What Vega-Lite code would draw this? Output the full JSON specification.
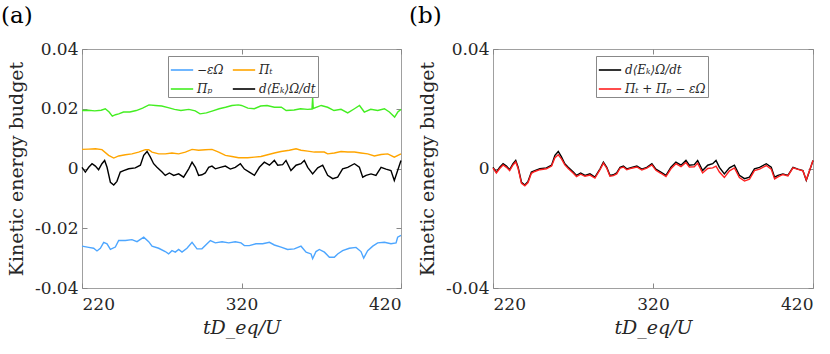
{
  "$schema": "https://vega.github.io/schema/vega-lite/v6.json",
  "background": "white",
  "padding": {"left": 0, "top": 4, "right": 5, "bottom": 5},
  "spacing": 3,
  "config": {
    "font": "DejaVu Serif",
    "view": {"stroke": "#a0a0a0", "strokeWidth": 1},
    "axis": {"domain": false, "grid": false, "tickSize": -5, "tickColor": "#888888", "labelFont": "DejaVu Serif", "labelFontSize": 17, "labelColor": "#262626", "titleFont": "DejaVu Serif", "titleFontSize": 19, "titleFontWeight": "normal", "titleColor": "#262626", "labelPadding": 9},
    "title": {"font": "DejaVu Serif", "fontSize": 23, "fontWeight": "normal", "anchor": "start", "frame": "group", "color": "#000000"},
    "legend": {"orient": "none", "title": null, "symbolType": "stroke", "symbolStrokeWidth": 1.6, "symbolSize": 500, "labelFont": "DejaVu Serif", "labelFontSize": 12, "labelFontStyle": "italic", "labelColor": "#262626", "strokeColor": "#888888", "fillColor": "white", "padding": 2, "rowPadding": 1, "columnPadding": 5, "labelOffset": 3}
  },
  "datasets": {
    "a": [
      {"s": "−εΩ", "t": 220.0, "v": -0.0260}, {"s": "−εΩ", "t": 224.2, "v": -0.0264}, {"s": "−εΩ", "t": 227.3, "v": -0.0267}, {"s": "−εΩ", "t": 229.4, "v": -0.0276}, {"s": "−εΩ", "t": 231.5, "v": -0.0267}, {"s": "−εΩ", "t": 233.6, "v": -0.0247}, {"s": "−εΩ", "t": 235.7, "v": -0.0252}, {"s": "−εΩ", "t": 237.8, "v": -0.0271}, {"s": "−εΩ", "t": 240.9, "v": -0.0263}, {"s": "−εΩ", "t": 243.0, "v": -0.0241}, {"s": "−εΩ", "t": 247.2, "v": -0.0241}, {"s": "−εΩ", "t": 251.3, "v": -0.0238}, {"s": "−εΩ", "t": 254.5, "v": -0.0245}, {"s": "−εΩ", "t": 258.7, "v": -0.0230}, {"s": "−εΩ", "t": 261.8, "v": -0.0245}, {"s": "−εΩ", "t": 263.9, "v": -0.0260}, {"s": "−εΩ", "t": 268.1, "v": -0.0267}, {"s": "−εΩ", "t": 272.2, "v": -0.0278}, {"s": "−εΩ", "t": 274.3, "v": -0.0286}, {"s": "−εΩ", "t": 276.4, "v": -0.0275}, {"s": "−εΩ", "t": 278.5, "v": -0.0280}, {"s": "−εΩ", "t": 280.6, "v": -0.0271}, {"s": "−εΩ", "t": 282.7, "v": -0.0280}, {"s": "−εΩ", "t": 285.8, "v": -0.0267}, {"s": "−εΩ", "t": 289.0, "v": -0.0247}, {"s": "−εΩ", "t": 292.1, "v": -0.0269}, {"s": "−εΩ", "t": 295.2, "v": -0.0269}, {"s": "−εΩ", "t": 298.4, "v": -0.0252}, {"s": "−εΩ", "t": 300.5, "v": -0.0241}, {"s": "−εΩ", "t": 303.6, "v": -0.0249}, {"s": "−εΩ", "t": 307.8, "v": -0.0245}, {"s": "−εΩ", "t": 312.0, "v": -0.0249}, {"s": "−εΩ", "t": 316.1, "v": -0.0245}, {"s": "−εΩ", "t": 319.7, "v": -0.0249}, {"s": "−εΩ", "t": 321.8, "v": -0.0258}, {"s": "−εΩ", "t": 324.9, "v": -0.0258}, {"s": "−εΩ", "t": 329.1, "v": -0.0252}, {"s": "−εΩ", "t": 333.3, "v": -0.0252}, {"s": "−εΩ", "t": 337.5, "v": -0.0247}, {"s": "−εΩ", "t": 340.6, "v": -0.0256}, {"s": "−εΩ", "t": 344.8, "v": -0.0263}, {"s": "−εΩ", "t": 348.9, "v": -0.0271}, {"s": "−εΩ", "t": 353.1, "v": -0.0269}, {"s": "−εΩ", "t": 357.3, "v": -0.0260}, {"s": "−εΩ", "t": 360.5, "v": -0.0280}, {"s": "−εΩ", "t": 363.6, "v": -0.0286}, {"s": "−εΩ", "t": 364.6, "v": -0.0302}, {"s": "−εΩ", "t": 366.7, "v": -0.0278}, {"s": "−εΩ", "t": 368.8, "v": -0.0271}, {"s": "−εΩ", "t": 372.0, "v": -0.0280}, {"s": "−εΩ", "t": 375.1, "v": -0.0297}, {"s": "−εΩ", "t": 378.2, "v": -0.0297}, {"s": "−εΩ", "t": 380.3, "v": -0.0286}, {"s": "−εΩ", "t": 383.4, "v": -0.0275}, {"s": "−εΩ", "t": 387.6, "v": -0.0267}, {"s": "−εΩ", "t": 391.8, "v": -0.0264}, {"s": "−εΩ", "t": 394.9, "v": -0.0278}, {"s": "−εΩ", "t": 396.6, "v": -0.0300}, {"s": "−εΩ", "t": 399.1, "v": -0.0275}, {"s": "−εΩ", "t": 402.3, "v": -0.0260}, {"s": "−εΩ", "t": 405.4, "v": -0.0249}, {"s": "−εΩ", "t": 409.6, "v": -0.0247}, {"s": "−εΩ", "t": 413.7, "v": -0.0252}, {"s": "−εΩ", "t": 416.9, "v": -0.0249}, {"s": "−εΩ", "t": 417.9, "v": -0.0230}, {"s": "−εΩ", "t": 420.0, "v": -0.0224},

      {"s": "Πₜ", "t": 220.0, "v": 0.0064}, {"s": "Πₜ", "t": 224.2, "v": 0.0065}, {"s": "Πₜ", "t": 228.4, "v": 0.0066}, {"s": "Πₜ", "t": 232.5, "v": 0.0063}, {"s": "Πₜ", "t": 236.7, "v": 0.0044}, {"s": "Πₜ", "t": 239.9, "v": 0.0035}, {"s": "Πₜ", "t": 243.0, "v": 0.0042}, {"s": "Πₜ", "t": 247.2, "v": 0.0046}, {"s": "Πₜ", "t": 251.3, "v": 0.0049}, {"s": "Πₜ", "t": 255.5, "v": 0.0055}, {"s": "Πₜ", "t": 259.7, "v": 0.0063}, {"s": "Πₜ", "t": 261.8, "v": 0.0063}, {"s": "Πₜ", "t": 263.9, "v": 0.0055}, {"s": "Πₜ", "t": 268.1, "v": 0.0049}, {"s": "Πₜ", "t": 272.2, "v": 0.0049}, {"s": "Πₜ", "t": 276.4, "v": 0.0052}, {"s": "Πₜ", "t": 280.6, "v": 0.0049}, {"s": "Πₜ", "t": 284.8, "v": 0.0055}, {"s": "Πₜ", "t": 289.0, "v": 0.0064}, {"s": "Πₜ", "t": 293.1, "v": 0.0061}, {"s": "Πₜ", "t": 297.3, "v": 0.0063}, {"s": "Πₜ", "t": 301.5, "v": 0.0064}, {"s": "Πₜ", "t": 305.7, "v": 0.0055}, {"s": "Πₜ", "t": 309.9, "v": 0.0044}, {"s": "Πₜ", "t": 314.0, "v": 0.0040}, {"s": "Πₜ", "t": 318.2, "v": 0.0036}, {"s": "Πₜ", "t": 323.9, "v": 0.0036}, {"s": "Πₜ", "t": 328.1, "v": 0.0038}, {"s": "Πₜ", "t": 332.2, "v": 0.0040}, {"s": "Πₜ", "t": 336.4, "v": 0.0046}, {"s": "Πₜ", "t": 340.6, "v": 0.0052}, {"s": "Πₜ", "t": 344.8, "v": 0.0057}, {"s": "Πₜ", "t": 350.0, "v": 0.0061}, {"s": "Πₜ", "t": 354.2, "v": 0.0066}, {"s": "Πₜ", "t": 357.3, "v": 0.0061}, {"s": "Πₜ", "t": 361.5, "v": 0.0058}, {"s": "Πₜ", "t": 365.7, "v": 0.0055}, {"s": "Πₜ", "t": 371.9, "v": 0.0055}, {"s": "Πₜ", "t": 374.0, "v": 0.0049}, {"s": "Πₜ", "t": 378.2, "v": 0.0052}, {"s": "Πₜ", "t": 382.4, "v": 0.0057}, {"s": "Πₜ", "t": 386.6, "v": 0.0055}, {"s": "Πₜ", "t": 390.8, "v": 0.0055}, {"s": "Πₜ", "t": 394.9, "v": 0.0052}, {"s": "Πₜ", "t": 399.1, "v": 0.0049}, {"s": "Πₜ", "t": 403.3, "v": 0.0042}, {"s": "Πₜ", "t": 407.5, "v": 0.0047}, {"s": "Πₜ", "t": 411.7, "v": 0.0049}, {"s": "Πₜ", "t": 415.8, "v": 0.0038}, {"s": "Πₜ", "t": 420.0, "v": 0.0049},

      {"s": "Πₚ", "t": 220.0, "v": 0.0194}, {"s": "Πₚ", "t": 224.0, "v": 0.0195}, {"s": "Πₚ", "t": 228.0, "v": 0.0193}, {"s": "Πₚ", "t": 232.0, "v": 0.0195}, {"s": "Πₚ", "t": 234.6, "v": 0.0200}, {"s": "Πₚ", "t": 237.0, "v": 0.0189}, {"s": "Πₚ", "t": 239.0, "v": 0.0175}, {"s": "Πₚ", "t": 241.0, "v": 0.0180}, {"s": "Πₚ", "t": 243.0, "v": 0.0183}, {"s": "Πₚ", "t": 246.0, "v": 0.0189}, {"s": "Πₚ", "t": 250.0, "v": 0.0189}, {"s": "Πₚ", "t": 254.0, "v": 0.0194}, {"s": "Πₚ", "t": 258.0, "v": 0.0202}, {"s": "Πₚ", "t": 262.0, "v": 0.0213}, {"s": "Πₚ", "t": 266.0, "v": 0.0211}, {"s": "Πₚ", "t": 270.0, "v": 0.0209}, {"s": "Πₚ", "t": 274.0, "v": 0.0204}, {"s": "Πₚ", "t": 278.0, "v": 0.0198}, {"s": "Πₚ", "t": 282.0, "v": 0.0194}, {"s": "Πₚ", "t": 287.0, "v": 0.0198}, {"s": "Πₚ", "t": 291.0, "v": 0.0193}, {"s": "Πₚ", "t": 294.0, "v": 0.0183}, {"s": "Πₚ", "t": 298.0, "v": 0.0186}, {"s": "Πₚ", "t": 302.0, "v": 0.0193}, {"s": "Πₚ", "t": 306.0, "v": 0.0200}, {"s": "Πₚ", "t": 310.0, "v": 0.0205}, {"s": "Πₚ", "t": 314.0, "v": 0.0211}, {"s": "Πₚ", "t": 318.0, "v": 0.0213}, {"s": "Πₚ", "t": 320.0, "v": 0.0211}, {"s": "Πₚ", "t": 324.0, "v": 0.0202}, {"s": "Πₚ", "t": 328.0, "v": 0.0200}, {"s": "Πₚ", "t": 332.0, "v": 0.0209}, {"s": "Πₚ", "t": 336.0, "v": 0.0211}, {"s": "Πₚ", "t": 340.6, "v": 0.0205}, {"s": "Πₚ", "t": 345.0, "v": 0.0205}, {"s": "Πₚ", "t": 348.0, "v": 0.0194}, {"s": "Πₚ", "t": 353.0, "v": 0.0196}, {"s": "Πₚ", "t": 357.0, "v": 0.0200}, {"s": "Πₚ", "t": 361.5, "v": 0.0198}, {"s": "Πₚ", "t": 364.2, "v": 0.0199}, {"s": "Πₚ", "t": 364.6, "v": 0.0239}, {"s": "Πₚ", "t": 365.0, "v": 0.0201}, {"s": "Πₚ", "t": 370.0, "v": 0.0211}, {"s": "Πₚ", "t": 374.0, "v": 0.0205}, {"s": "Πₚ", "t": 378.0, "v": 0.0194}, {"s": "Πₚ", "t": 382.4, "v": 0.0198}, {"s": "Πₚ", "t": 386.6, "v": 0.0186}, {"s": "Πₚ", "t": 390.8, "v": 0.0200}, {"s": "Πₚ", "t": 394.0, "v": 0.0211}, {"s": "Πₚ", "t": 397.0, "v": 0.0189}, {"s": "Πₚ", "t": 401.0, "v": 0.0198}, {"s": "Πₚ", "t": 405.4, "v": 0.0194}, {"s": "Πₚ", "t": 409.6, "v": 0.0200}, {"s": "Πₚ", "t": 412.7, "v": 0.0189}, {"s": "Πₚ", "t": 416.0, "v": 0.0172}, {"s": "Πₚ", "t": 418.0, "v": 0.0189}, {"s": "Πₚ", "t": 420.0, "v": 0.0198},

      {"s": "d⟨Eₖ⟩Ω/dt", "t": 220.0, "v": 0.0004}, {"s": "d⟨Eₖ⟩Ω/dt", "t": 222.1, "v": -0.0012}, {"s": "d⟨Eₖ⟩Ω/dt", "t": 224.2, "v": 0.0004}, {"s": "d⟨Eₖ⟩Ω/dt", "t": 226.3, "v": 0.0016}, {"s": "d⟨Eₖ⟩Ω/dt", "t": 228.4, "v": 0.0008}, {"s": "d⟨Eₖ⟩Ω/dt", "t": 230.4, "v": -0.0004}, {"s": "d⟨Eₖ⟩Ω/dt", "t": 232.5, "v": 0.0016}, {"s": "d⟨Eₖ⟩Ω/dt", "t": 234.2, "v": 0.0027}, {"s": "d⟨Eₖ⟩Ω/dt", "t": 235.7, "v": 0.0004}, {"s": "d⟨Eₖ⟩Ω/dt", "t": 237.8, "v": -0.0046}, {"s": "d⟨Eₖ⟩Ω/dt", "t": 239.9, "v": -0.0055}, {"s": "d⟨Eₖ⟩Ω/dt", "t": 241.9, "v": -0.0043}, {"s": "d⟨Eₖ⟩Ω/dt", "t": 244.0, "v": -0.0012}, {"s": "d⟨Eₖ⟩Ω/dt", "t": 246.1, "v": -0.0007}, {"s": "d⟨Eₖ⟩Ω/dt", "t": 249.3, "v": -0.0001}, {"s": "d⟨Eₖ⟩Ω/dt", "t": 253.4, "v": 0.0002}, {"s": "d⟨Eₖ⟩Ω/dt", "t": 256.6, "v": 0.0011}, {"s": "d⟨Eₖ⟩Ω/dt", "t": 258.7, "v": 0.0044}, {"s": "d⟨Eₖ⟩Ω/dt", "t": 260.8, "v": 0.0057}, {"s": "d⟨Eₖ⟩Ω/dt", "t": 262.8, "v": 0.0039}, {"s": "d⟨Eₖ⟩Ω/dt", "t": 264.9, "v": 0.0016}, {"s": "d⟨Eₖ⟩Ω/dt", "t": 267.0, "v": 0.0004}, {"s": "d⟨Eₖ⟩Ω/dt", "t": 270.2, "v": -0.0012}, {"s": "d⟨Eₖ⟩Ω/dt", "t": 272.2, "v": -0.0023}, {"s": "d⟨Eₖ⟩Ω/dt", "t": 274.8, "v": -0.0015}, {"s": "d⟨Eₖ⟩Ω/dt", "t": 277.5, "v": -0.0023}, {"s": "d⟨Eₖ⟩Ω/dt", "t": 280.6, "v": -0.0018}, {"s": "d⟨Eₖ⟩Ω/dt", "t": 283.7, "v": -0.0029}, {"s": "d⟨Eₖ⟩Ω/dt", "t": 286.9, "v": -0.0001}, {"s": "d⟨Eₖ⟩Ω/dt", "t": 289.0, "v": 0.0021}, {"s": "d⟨Eₖ⟩Ω/dt", "t": 291.1, "v": 0.0004}, {"s": "d⟨Eₖ⟩Ω/dt", "t": 293.1, "v": -0.0023}, {"s": "d⟨Eₖ⟩Ω/dt", "t": 295.2, "v": -0.0021}, {"s": "d⟨Eₖ⟩Ω/dt", "t": 297.3, "v": -0.0015}, {"s": "d⟨Eₖ⟩Ω/dt", "t": 299.4, "v": 0.0004}, {"s": "d⟨Eₖ⟩Ω/dt", "t": 301.5, "v": 0.0008}, {"s": "d⟨Eₖ⟩Ω/dt", "t": 303.6, "v": -0.0001}, {"s": "d⟨Eₖ⟩Ω/dt", "t": 306.7, "v": 0.0004}, {"s": "d⟨Eₖ⟩Ω/dt", "t": 309.9, "v": 0.0008}, {"s": "d⟨Eₖ⟩Ω/dt", "t": 313.0, "v": -0.0002}, {"s": "d⟨Eₖ⟩Ω/dt", "t": 316.1, "v": 0.0004}, {"s": "d⟨Eₖ⟩Ω/dt", "t": 319.3, "v": 0.0016}, {"s": "d⟨Eₖ⟩Ω/dt", "t": 321.8, "v": -0.0002}, {"s": "d⟨Eₖ⟩Ω/dt", "t": 324.9, "v": -0.0012}, {"s": "d⟨Eₖ⟩Ω/dt", "t": 328.1, "v": -0.0023}, {"s": "d⟨Eₖ⟩Ω/dt", "t": 331.2, "v": 0.0004}, {"s": "d⟨Eₖ⟩Ω/dt", "t": 334.3, "v": 0.0021}, {"s": "d⟨Eₖ⟩Ω/dt", "t": 337.5, "v": 0.0011}, {"s": "d⟨Eₖ⟩Ω/dt", "t": 340.6, "v": 0.0027}, {"s": "d⟨Eₖ⟩Ω/dt", "t": 342.7, "v": 0.0011}, {"s": "d⟨Eₖ⟩Ω/dt", "t": 345.8, "v": 0.0013}, {"s": "d⟨Eₖ⟩Ω/dt", "t": 347.9, "v": 0.0027}, {"s": "d⟨Eₖ⟩Ω/dt", "t": 351.0, "v": -0.0007}, {"s": "d⟨Eₖ⟩Ω/dt", "t": 354.2, "v": 0.0011}, {"s": "d⟨Eₖ⟩Ω/dt", "t": 357.3, "v": 0.0016}, {"s": "d⟨Eₖ⟩Ω/dt", "t": 359.4, "v": 0.0027}, {"s": "d⟨Eₖ⟩Ω/dt", "t": 361.5, "v": 0.0004}, {"s": "d⟨Eₖ⟩Ω/dt", "t": 364.6, "v": -0.0018}, {"s": "d⟨Eₖ⟩Ω/dt", "t": 367.8, "v": 0.0002}, {"s": "d⟨Eₖ⟩Ω/dt", "t": 370.9, "v": 0.0011}, {"s": "d⟨Eₖ⟩Ω/dt", "t": 374.0, "v": -0.0023}, {"s": "d⟨Eₖ⟩Ω/dt", "t": 377.2, "v": -0.0034}, {"s": "d⟨Eₖ⟩Ω/dt", "t": 380.3, "v": -0.0029}, {"s": "d⟨Eₖ⟩Ω/dt", "t": 383.4, "v": -0.0001}, {"s": "d⟨Eₖ⟩Ω/dt", "t": 386.6, "v": 0.0004}, {"s": "d⟨Eₖ⟩Ω/dt", "t": 390.8, "v": 0.0016}, {"s": "d⟨Eₖ⟩Ω/dt", "t": 393.9, "v": 0.0004}, {"s": "d⟨Eₖ⟩Ω/dt", "t": 396.0, "v": -0.0029}, {"s": "d⟨Eₖ⟩Ω/dt", "t": 398.1, "v": -0.0023}, {"s": "d⟨Eₖ⟩Ω/dt", "t": 401.2, "v": -0.0018}, {"s": "d⟨Eₖ⟩Ω/dt", "t": 404.3, "v": -0.0023}, {"s": "d⟨Eₖ⟩Ω/dt", "t": 407.5, "v": 0.0004}, {"s": "d⟨Eₖ⟩Ω/dt", "t": 410.6, "v": -0.0002}, {"s": "d⟨Eₖ⟩Ω/dt", "t": 413.7, "v": -0.0007}, {"s": "d⟨Eₖ⟩Ω/dt", "t": 415.8, "v": -0.0040}, {"s": "d⟨Eₖ⟩Ω/dt", "t": 417.9, "v": -0.0007}, {"s": "d⟨Eₖ⟩Ω/dt", "t": 420.0, "v": 0.0027}
    ],
    "b": [
      {"s": "d⟨Eₖ⟩Ω/dt", "t": 220.0, "v": 0.0004}, {"s": "d⟨Eₖ⟩Ω/dt", "t": 222.1, "v": -0.0012}, {"s": "d⟨Eₖ⟩Ω/dt", "t": 224.2, "v": 0.0004}, {"s": "d⟨Eₖ⟩Ω/dt", "t": 226.3, "v": 0.0016}, {"s": "d⟨Eₖ⟩Ω/dt", "t": 228.4, "v": 0.0008}, {"s": "d⟨Eₖ⟩Ω/dt", "t": 230.4, "v": -0.0004}, {"s": "d⟨Eₖ⟩Ω/dt", "t": 232.5, "v": 0.0016}, {"s": "d⟨Eₖ⟩Ω/dt", "t": 234.2, "v": 0.0027}, {"s": "d⟨Eₖ⟩Ω/dt", "t": 235.7, "v": 0.0004}, {"s": "d⟨Eₖ⟩Ω/dt", "t": 237.8, "v": -0.0046}, {"s": "d⟨Eₖ⟩Ω/dt", "t": 239.9, "v": -0.0055}, {"s": "d⟨Eₖ⟩Ω/dt", "t": 241.9, "v": -0.0043}, {"s": "d⟨Eₖ⟩Ω/dt", "t": 244.0, "v": -0.0012}, {"s": "d⟨Eₖ⟩Ω/dt", "t": 246.1, "v": -0.0007}, {"s": "d⟨Eₖ⟩Ω/dt", "t": 249.3, "v": -0.0001}, {"s": "d⟨Eₖ⟩Ω/dt", "t": 253.4, "v": 0.0002}, {"s": "d⟨Eₖ⟩Ω/dt", "t": 256.6, "v": 0.0011}, {"s": "d⟨Eₖ⟩Ω/dt", "t": 258.7, "v": 0.0044}, {"s": "d⟨Eₖ⟩Ω/dt", "t": 260.8, "v": 0.0057}, {"s": "d⟨Eₖ⟩Ω/dt", "t": 262.8, "v": 0.0039}, {"s": "d⟨Eₖ⟩Ω/dt", "t": 264.9, "v": 0.0016}, {"s": "d⟨Eₖ⟩Ω/dt", "t": 267.0, "v": 0.0004}, {"s": "d⟨Eₖ⟩Ω/dt", "t": 270.2, "v": -0.0012}, {"s": "d⟨Eₖ⟩Ω/dt", "t": 272.2, "v": -0.0023}, {"s": "d⟨Eₖ⟩Ω/dt", "t": 274.8, "v": -0.0015}, {"s": "d⟨Eₖ⟩Ω/dt", "t": 277.5, "v": -0.0023}, {"s": "d⟨Eₖ⟩Ω/dt", "t": 280.6, "v": -0.0018}, {"s": "d⟨Eₖ⟩Ω/dt", "t": 283.7, "v": -0.0029}, {"s": "d⟨Eₖ⟩Ω/dt", "t": 286.9, "v": -0.0001}, {"s": "d⟨Eₖ⟩Ω/dt", "t": 289.0, "v": 0.0021}, {"s": "d⟨Eₖ⟩Ω/dt", "t": 291.1, "v": 0.0004}, {"s": "d⟨Eₖ⟩Ω/dt", "t": 293.1, "v": -0.0023}, {"s": "d⟨Eₖ⟩Ω/dt", "t": 295.2, "v": -0.0021}, {"s": "d⟨Eₖ⟩Ω/dt", "t": 297.3, "v": -0.0015}, {"s": "d⟨Eₖ⟩Ω/dt", "t": 299.4, "v": 0.0004}, {"s": "d⟨Eₖ⟩Ω/dt", "t": 301.5, "v": 0.0008}, {"s": "d⟨Eₖ⟩Ω/dt", "t": 303.6, "v": -0.0001}, {"s": "d⟨Eₖ⟩Ω/dt", "t": 306.7, "v": 0.0004}, {"s": "d⟨Eₖ⟩Ω/dt", "t": 309.9, "v": 0.0008}, {"s": "d⟨Eₖ⟩Ω/dt", "t": 313.0, "v": -0.0002}, {"s": "d⟨Eₖ⟩Ω/dt", "t": 316.1, "v": 0.0004}, {"s": "d⟨Eₖ⟩Ω/dt", "t": 319.3, "v": 0.0016}, {"s": "d⟨Eₖ⟩Ω/dt", "t": 321.8, "v": -0.0002}, {"s": "d⟨Eₖ⟩Ω/dt", "t": 324.9, "v": -0.0012}, {"s": "d⟨Eₖ⟩Ω/dt", "t": 328.1, "v": -0.0023}, {"s": "d⟨Eₖ⟩Ω/dt", "t": 331.2, "v": 0.0004}, {"s": "d⟨Eₖ⟩Ω/dt", "t": 334.3, "v": 0.0021}, {"s": "d⟨Eₖ⟩Ω/dt", "t": 337.5, "v": 0.0011}, {"s": "d⟨Eₖ⟩Ω/dt", "t": 340.6, "v": 0.0027}, {"s": "d⟨Eₖ⟩Ω/dt", "t": 342.7, "v": 0.0011}, {"s": "d⟨Eₖ⟩Ω/dt", "t": 345.8, "v": 0.0013}, {"s": "d⟨Eₖ⟩Ω/dt", "t": 347.9, "v": 0.0027}, {"s": "d⟨Eₖ⟩Ω/dt", "t": 351.0, "v": -0.0007}, {"s": "d⟨Eₖ⟩Ω/dt", "t": 354.2, "v": 0.0011}, {"s": "d⟨Eₖ⟩Ω/dt", "t": 357.3, "v": 0.0016}, {"s": "d⟨Eₖ⟩Ω/dt", "t": 359.4, "v": 0.0027}, {"s": "d⟨Eₖ⟩Ω/dt", "t": 361.5, "v": 0.0004}, {"s": "d⟨Eₖ⟩Ω/dt", "t": 364.6, "v": -0.0018}, {"s": "d⟨Eₖ⟩Ω/dt", "t": 367.8, "v": 0.0002}, {"s": "d⟨Eₖ⟩Ω/dt", "t": 370.9, "v": 0.0011}, {"s": "d⟨Eₖ⟩Ω/dt", "t": 374.0, "v": -0.0023}, {"s": "d⟨Eₖ⟩Ω/dt", "t": 377.2, "v": -0.0034}, {"s": "d⟨Eₖ⟩Ω/dt", "t": 380.3, "v": -0.0029}, {"s": "d⟨Eₖ⟩Ω/dt", "t": 383.4, "v": -0.0001}, {"s": "d⟨Eₖ⟩Ω/dt", "t": 386.6, "v": 0.0004}, {"s": "d⟨Eₖ⟩Ω/dt", "t": 390.8, "v": 0.0016}, {"s": "d⟨Eₖ⟩Ω/dt", "t": 393.9, "v": 0.0004}, {"s": "d⟨Eₖ⟩Ω/dt", "t": 396.0, "v": -0.0029}, {"s": "d⟨Eₖ⟩Ω/dt", "t": 398.1, "v": -0.0023}, {"s": "d⟨Eₖ⟩Ω/dt", "t": 401.2, "v": -0.0018}, {"s": "d⟨Eₖ⟩Ω/dt", "t": 404.3, "v": -0.0023}, {"s": "d⟨Eₖ⟩Ω/dt", "t": 407.5, "v": 0.0004}, {"s": "d⟨Eₖ⟩Ω/dt", "t": 410.6, "v": -0.0002}, {"s": "d⟨Eₖ⟩Ω/dt", "t": 413.7, "v": -0.0007}, {"s": "d⟨Eₖ⟩Ω/dt", "t": 415.8, "v": -0.0040}, {"s": "d⟨Eₖ⟩Ω/dt", "t": 417.9, "v": -0.0007}, {"s": "d⟨Eₖ⟩Ω/dt", "t": 420.0, "v": 0.0027},

      {"s": "Πₜ + Πₚ − εΩ", "t": 220.0, "v": 0.0001}, {"s": "Πₜ + Πₚ − εΩ", "t": 222.1, "v": -0.0015}, {"s": "Πₜ + Πₚ − εΩ", "t": 224.2, "v": 0.0000}, {"s": "Πₜ + Πₚ − εΩ", "t": 226.3, "v": 0.0012}, {"s": "Πₜ + Πₚ − εΩ", "t": 228.4, "v": 0.0004}, {"s": "Πₜ + Πₚ − εΩ", "t": 230.4, "v": -0.0007}, {"s": "Πₜ + Πₚ − εΩ", "t": 232.5, "v": 0.0012}, {"s": "Πₜ + Πₚ − εΩ", "t": 234.2, "v": 0.0022}, {"s": "Πₜ + Πₚ − εΩ", "t": 235.7, "v": 0.0000}, {"s": "Πₜ + Πₚ − εΩ", "t": 237.8, "v": -0.0050}, {"s": "Πₜ + Πₚ − εΩ", "t": 239.9, "v": -0.0058}, {"s": "Πₜ + Πₚ − εΩ", "t": 241.9, "v": -0.0047}, {"s": "Πₜ + Πₚ − εΩ", "t": 244.0, "v": -0.0016}, {"s": "Πₜ + Πₚ − εΩ", "t": 246.1, "v": -0.0010}, {"s": "Πₜ + Πₚ − εΩ", "t": 249.3, "v": -0.0004}, {"s": "Πₜ + Πₚ − εΩ", "t": 253.4, "v": -0.0001}, {"s": "Πₜ + Πₚ − εΩ", "t": 256.6, "v": 0.0008}, {"s": "Πₜ + Πₚ − εΩ", "t": 258.7, "v": 0.0036}, {"s": "Πₜ + Πₚ − εΩ", "t": 260.8, "v": 0.0046}, {"s": "Πₜ + Πₚ − εΩ", "t": 262.8, "v": 0.0032}, {"s": "Πₜ + Πₚ − εΩ", "t": 264.9, "v": 0.0012}, {"s": "Πₜ + Πₚ − εΩ", "t": 267.0, "v": 0.0000}, {"s": "Πₜ + Πₚ − εΩ", "t": 270.2, "v": -0.0016}, {"s": "Πₜ + Πₚ − εΩ", "t": 272.2, "v": -0.0027}, {"s": "Πₜ + Πₚ − εΩ", "t": 274.8, "v": -0.0019}, {"s": "Πₜ + Πₚ − εΩ", "t": 277.5, "v": -0.0026}, {"s": "Πₜ + Πₚ − εΩ", "t": 280.6, "v": -0.0022}, {"s": "Πₜ + Πₚ − εΩ", "t": 283.7, "v": -0.0032}, {"s": "Πₜ + Πₚ − εΩ", "t": 286.9, "v": -0.0004}, {"s": "Πₜ + Πₚ − εΩ", "t": 289.0, "v": 0.0018}, {"s": "Πₜ + Πₚ − εΩ", "t": 291.1, "v": 0.0001}, {"s": "Πₜ + Πₚ − εΩ", "t": 293.1, "v": -0.0026}, {"s": "Πₜ + Πₚ − εΩ", "t": 295.2, "v": -0.0024}, {"s": "Πₜ + Πₚ − εΩ", "t": 297.3, "v": -0.0018}, {"s": "Πₜ + Πₚ − εΩ", "t": 299.4, "v": 0.0001}, {"s": "Πₜ + Πₚ − εΩ", "t": 301.5, "v": 0.0005}, {"s": "Πₜ + Πₚ − εΩ", "t": 303.6, "v": -0.0004}, {"s": "Πₜ + Πₚ − εΩ", "t": 306.7, "v": 0.0001}, {"s": "Πₜ + Πₚ − εΩ", "t": 309.9, "v": 0.0005}, {"s": "Πₜ + Πₚ − εΩ", "t": 313.0, "v": -0.0005}, {"s": "Πₜ + Πₚ − εΩ", "t": 316.1, "v": 0.0001}, {"s": "Πₜ + Πₚ − εΩ", "t": 319.3, "v": 0.0012}, {"s": "Πₜ + Πₚ − εΩ", "t": 321.8, "v": -0.0006}, {"s": "Πₜ + Πₚ − εΩ", "t": 324.9, "v": -0.0016}, {"s": "Πₜ + Πₚ − εΩ", "t": 328.1, "v": -0.0027}, {"s": "Πₜ + Πₚ − εΩ", "t": 331.2, "v": -0.0001}, {"s": "Πₜ + Πₚ − εΩ", "t": 334.3, "v": 0.0016}, {"s": "Πₜ + Πₚ − εΩ", "t": 337.5, "v": 0.0006}, {"s": "Πₜ + Πₚ − εΩ", "t": 340.6, "v": 0.0020}, {"s": "Πₜ + Πₚ − εΩ", "t": 342.7, "v": 0.0005}, {"s": "Πₜ + Πₚ − εΩ", "t": 345.8, "v": 0.0006}, {"s": "Πₜ + Πₚ − εΩ", "t": 347.9, "v": 0.0018}, {"s": "Πₜ + Πₚ − εΩ", "t": 351.0, "v": -0.0015}, {"s": "Πₜ + Πₚ − εΩ", "t": 354.2, "v": 0.0000}, {"s": "Πₜ + Πₚ − εΩ", "t": 357.3, "v": 0.0002}, {"s": "Πₜ + Πₚ − εΩ", "t": 359.4, "v": 0.0008}, {"s": "Πₜ + Πₚ − εΩ", "t": 361.5, "v": -0.0012}, {"s": "Πₜ + Πₚ − εΩ", "t": 364.6, "v": -0.0030}, {"s": "Πₜ + Πₚ − εΩ", "t": 367.8, "v": -0.0008}, {"s": "Πₜ + Πₚ − εΩ", "t": 370.9, "v": 0.0002}, {"s": "Πₜ + Πₚ − εΩ", "t": 374.0, "v": -0.0030}, {"s": "Πₜ + Πₚ − εΩ", "t": 377.2, "v": -0.0042}, {"s": "Πₜ + Πₚ − εΩ", "t": 380.3, "v": -0.0036}, {"s": "Πₜ + Πₚ − εΩ", "t": 383.4, "v": -0.0007}, {"s": "Πₜ + Πₚ − εΩ", "t": 386.6, "v": -0.0002}, {"s": "Πₜ + Πₚ − εΩ", "t": 390.8, "v": 0.0010}, {"s": "Πₜ + Πₚ − εΩ", "t": 393.9, "v": -0.0002}, {"s": "Πₜ + Πₚ − εΩ", "t": 396.0, "v": -0.0035}, {"s": "Πₜ + Πₚ − εΩ", "t": 398.1, "v": -0.0028}, {"s": "Πₜ + Πₚ − εΩ", "t": 401.2, "v": -0.0020}, {"s": "Πₜ + Πₚ − εΩ", "t": 404.3, "v": -0.0025}, {"s": "Πₜ + Πₚ − εΩ", "t": 407.5, "v": 0.0002}, {"s": "Πₜ + Πₚ − εΩ", "t": 410.6, "v": -0.0003}, {"s": "Πₜ + Πₚ − εΩ", "t": 413.7, "v": -0.0008}, {"s": "Πₜ + Πₚ − εΩ", "t": 415.8, "v": -0.0038}, {"s": "Πₜ + Πₚ − εΩ", "t": 417.9, "v": -0.0006}, {"s": "Πₜ + Πₚ − εΩ", "t": 420.0, "v": 0.0027}
    ]
  },
  "resolve": {"scale": {"color": "independent"}, "legend": {"color": "independent"}},
  "hconcat": [
    {
      "width": 319, "height": 239,
      "title": {"text": "(a)", "dx": -81, "offset": 12},
      "data": {"name": "a"},
      "resolve": {"axis": {"x": "independent", "y": "independent"}},
      "layer": [
        {
          "mark": {"type": "line", "strokeWidth": 1.4},
          "encoding": {
            "x": {"field": "t", "type": "quantitative", "scale": {"domain": [220, 420], "nice": false}, "axis": {"values": [220, 320, 420], "title": "tD_eq/U", "titleFontStyle": "italic", "labelPadding": 13, "titlePadding": 6}},
            "y": {"field": "v", "type": "quantitative", "scale": {"domain": [-0.04, 0.04], "nice": false}, "axis": {"values": [-0.04, -0.02, 0, 0.02, 0.04], "title": "Kinetic energy budget", "titlePadding": 8, "labelExpr": "datum.value == 0 ? '0' : (datum.value < 0 ? '-' : '') + format(abs(datum.value), '.2f')"}},
            "color": {"field": "s", "type": "nominal", "scale": {"domain": ["−εΩ", "Πₚ", "Πₜ", "d⟨Eₖ⟩Ω/dt"], "range": ["#4da6ff", "#44ee22", "#ffa500", "#000000"]}, "legend": {"legendX": 86, "legendY": 7, "columns": 2}}
          }
        },
        {
          "mark": {"type": "point", "opacity": 0},
          "transform": [{"filter": "datum.t < 0"}],
          "encoding": {
            "x": {"field": "t", "type": "quantitative", "scale": {"domain": [220, 420], "nice": false}, "axis": {"orient": "top", "values": [220, 320, 420], "labels": false, "title": null}},
            "y": {"field": "v", "type": "quantitative", "scale": {"domain": [-0.04, 0.04], "nice": false}, "axis": {"orient": "right", "values": [-0.04, -0.02, 0, 0.02, 0.04], "labels": false, "title": null}}
          }
        }
      ]
    },
    {
      "width": 320, "height": 239,
      "title": {"text": "(b)", "dx": -84, "offset": 12},
      "data": {"name": "b"},
      "resolve": {"axis": {"x": "independent", "y": "independent"}},
      "layer": [
        {
          "mark": {"type": "line", "strokeWidth": 1.4},
          "encoding": {
            "x": {"field": "t", "type": "quantitative", "scale": {"domain": [220, 420], "nice": false}, "axis": {"values": [220, 320, 420], "title": "tD_eq/U", "titleFontStyle": "italic", "labelPadding": 13, "titlePadding": 6}},
            "y": {"field": "v", "type": "quantitative", "scale": {"domain": [-0.04, 0.04], "nice": false}, "axis": {"values": [-0.04, 0, 0.04], "title": "Kinetic energy budget", "titlePadding": 8, "labelExpr": "datum.value == 0 ? '0' : (datum.value < 0 ? '-' : '') + format(abs(datum.value), '.2f')"}},
            "color": {"field": "s", "type": "nominal", "scale": {"domain": ["d⟨Eₖ⟩Ω/dt", "Πₜ + Πₚ − εΩ"], "range": ["#000000", "#ff2020"]}, "legend": {"legendX": 103, "legendY": 7, "columns": 1}}
          }
        },
        {
          "mark": {"type": "point", "opacity": 0},
          "transform": [{"filter": "datum.t < 0"}],
          "encoding": {
            "x": {"field": "t", "type": "quantitative", "scale": {"domain": [220, 420], "nice": false}, "axis": {"orient": "top", "values": [220, 320, 420], "labels": false, "title": null}},
            "y": {"field": "v", "type": "quantitative", "scale": {"domain": [-0.04, 0.04], "nice": false}, "axis": {"orient": "right", "values": [-0.04, 0, 0.04], "labels": false, "title": null}}
          }
        }
      ]
    }
  ]
}
